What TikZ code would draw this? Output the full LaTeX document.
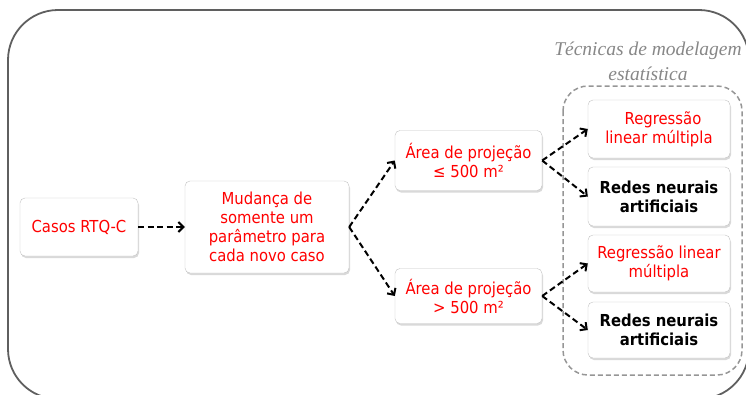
\documentclass[tikz,border=0pt]{standalone}
\usepackage{fontspec}
\setmainfont{DejaVu Sans Condensed}
\newfontfamily\titlefont{Liberation Serif}
\usetikzlibrary{arrows.meta,shadows}

\definecolor{boxline}{RGB}{195,195,195}
\definecolor{outerline}{RGB}{95,95,95}
\definecolor{groupline}{RGB}{150,150,150}
\definecolor{titlegray}{RGB}{135,135,135}

\tikzstyle{box}=[draw=boxline, fill=white, rounded corners=5pt, align=center, text=red, inner sep=0pt,
    font=\fontsize{16.5}{19}\selectfont,
    drop shadow={opacity=0.3, shadow xshift=1pt, shadow yshift=-2pt}]
\tikzstyle{boldbox}=[box, text=black, font=\fontsize{16.5}{19}\selectfont\bfseries]
\tikzstyle{link}=[line width=2pt, dash pattern=on 6pt off 3.5pt, -{Straight Barb[length=5pt,width=10pt]}]

\begin{document}
\begin{tikzpicture}[x=1pt, y=-1pt]
        \useasboundingbox (0,0) rectangle (746,394);
        \draw[outerline, line width=1.8pt, rounded corners=50pt] (8,10) rectangle (749,399);
        \draw[groupline, line width=1.5pt, dash pattern=on 5pt off 3pt, rounded corners=25pt] (563,86) rectangle (742,375);

        \node[text=titlegray, align=center, font=\titlefont\itshape\fontsize{19.5}{25}\selectfont](titulo) at (648,61) {Técnicas de modelagem\\estatística};

        \node[box, minimum width=118pt, minimum height=58pt](casos) at (79, 227) {Casos RTQ-C};
        \node[box, minimum width=164pt, minimum height=92pt](mudanca) at (267, 227) {Mudança de\\somente um\\parâmetro para\\cada novo caso};

        \node[box, minimum width=147pt, minimum height=60pt](menor) at (468.5, 160.5) {Área de projeção\\≤ 500 m²};
        \node[box, minimum width=147pt, minimum height=55pt](maior) at (468.5, 296) {Área de projeção\\> 500 m²};

        \node[box, minimum width=142pt, minimum height=58pt](reg1) at (659, 129) {\hspace*{8pt}Regressão\\linear múltipla};
        \node[boldbox, minimum width=142pt, minimum height=59pt](rede1) at (659, 196.5) {Redes neurais\\artificiais};
        \node[box, minimum width=142pt, minimum height=57pt](reg2) at (659, 263.5) {Regressão linear\\múltipla};
        \node[boldbox, minimum width=142pt, minimum height=56pt](rede2) at (659, 330) {Redes neurais\\artificiais};

        \draw[link] (casos) -- (mudanca);
        \draw[link] (mudanca.east) -- (menor.west);
        \draw[link] (mudanca.east) -- (maior.west);
        \draw[link] (menor.east) -- (reg1.west);
        \draw[link] (menor.east) -- (rede1.west);
        \draw[link] (maior.east) -- (reg2.west);
        \draw[link] (maior.east) -- (rede2.west);
    \end{tikzpicture}
\end{document}
